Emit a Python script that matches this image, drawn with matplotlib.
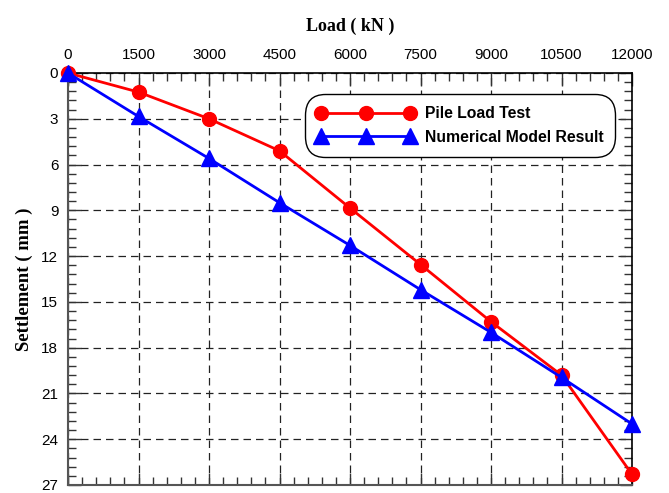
import matplotlib

matplotlib.use("Agg")
import matplotlib.pyplot as plt
from matplotlib.ticker import MultipleLocator

load = [0, 1500, 3000, 4500, 6000, 7500, 9000, 10500, 12000]
pile_test = [0, 1.25, 3.0, 5.1, 8.85, 12.55, 16.3, 19.8, 26.3]
numerical = [0, 2.85, 5.6, 8.5, 11.3, 14.2, 17.0, 19.95, 23.0]

x_ticks = [0, 1500, 3000, 4500, 6000, 7500, 9000, 10500, 12000]
y_ticks = [0, 3, 6, 9, 12, 15, 18, 21, 24, 27]

fig = plt.figure(figsize=(6.69, 4.93), dpi=100)
ax = fig.add_axes([68 / 669, 1 - 485 / 493, (632 - 68) / 669, (485 - 73) / 493])

ax.plot(load, pile_test, color="#ff0000", linewidth=2, marker="o", markersize=10,
        clip_on=False, zorder=4, label="Pile Load Test")
ax.plot(load, numerical, color="#0000ff", linewidth=2, marker="^", markersize=11,
        clip_on=False, zorder=5, label="Numerical Model Result")

ax.set_xlim(0, 12000)
ax.set_ylim(27, 0)
ax.set_xticks(x_ticks)
ax.set_yticks(y_ticks)
ax.xaxis.set_minor_locator(MultipleLocator(300))
ax.yaxis.set_minor_locator(MultipleLocator(0.6))
ax.xaxis.tick_top()
ax.tick_params(which="both", direction="in", top=True, bottom=True, left=True, right=True,
               labelbottom=False, labeltop=True, labelsize=11, color="#333333")
ax.tick_params(which="major", length=9, width=1)
ax.tick_params(which="minor", length=6, width=1)
ax.tick_params(axis="x", which="major", pad=8)
ax.tick_params(axis="y", which="major", pad=7)
for lab in ax.get_xticklabels() + ax.get_yticklabels():
    lab.set_family("Liberation Sans")

ax.grid(True, which="major", color="#222222", linestyle=(0, (6, 4)), linewidth=0.9)
for side in ["left", "bottom"]:
    ax.spines[side].set_color("#555555")
    ax.spines[side].set_linewidth(1.5)
for side in ["top", "right"]:
    ax.spines[side].set_color("black")
    ax.spines[side].set_linewidth(1.2)

ax.xaxis.set_label_position("top")
ax.set_xlabel("Load ( kN )", fontsize=13, fontweight="bold", family="Liberation Serif", labelpad=12)
ax.set_ylabel("Settlement ( mm )", fontsize=13.5, fontweight="bold", family="Liberation Serif", labelpad=6)

leg = ax.legend(loc="upper right", bbox_to_anchor=(0.984, 0.967), numpoints=3,
                handlelength=6.3, handletextpad=0.6, fancybox=True, framealpha=1,
                edgecolor="black",
                prop={"family": "Liberation Sans", "weight": "bold", "size": 11.3},
                borderpad=0.75, labelspacing=0.55)
leg.get_frame().set_linewidth(1)
leg.get_frame().set_boxstyle("round", pad=0, rounding_size=1.3)

fig.savefig("out.png", dpi=100)
